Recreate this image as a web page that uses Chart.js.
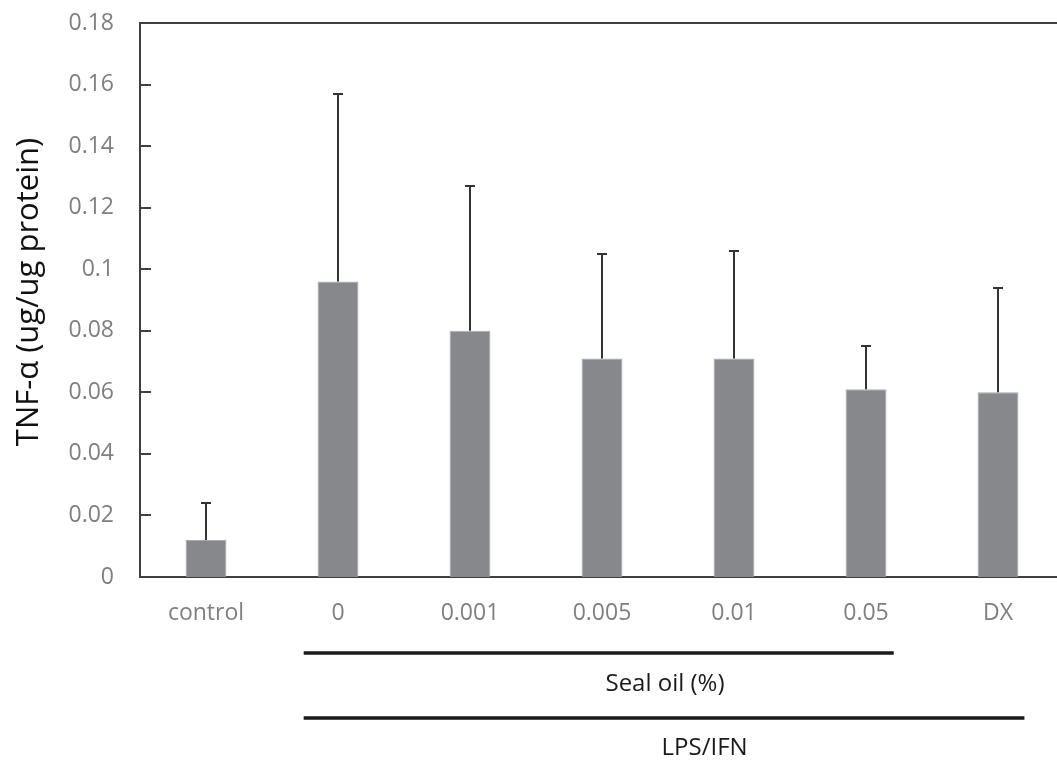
<!DOCTYPE html>
<html>
<head>
<meta charset="utf-8">
<script src="https://cdn.jsdelivr.net/npm/chart.js@4/dist/chart.umd.min.js"></script>
<style>
  html, body { margin: 0; padding: 0; background: #fff; overflow: hidden; }
  #wrap { position: relative; width: 1064px; height: 763px; }
</style>
</head>
<body>
<div id="wrap"><canvas id="c" width="1064" height="763"></canvas></div>
<script>
// Groups along the x axis
const categories = ['control', '0', '0.001', '0.005', '0.01', '0.05', 'DX'];
// Mean TNF-α per group
const meanValues = [0.012, 0.096, 0.080, 0.071, 0.071, 0.061, 0.060];
// Upper end of each error bar (mean + SD)
const errorTops = [0.024, 0.157, 0.127, 0.105, 0.106, 0.075, 0.094];
// Y axis ticks
const yTicks = [0, 0.02, 0.04, 0.06, 0.08, 0.1, 0.12, 0.14, 0.16, 0.18];
const yTitle = 'TNF-α (ug/ug protein)';

const AXIS_COLOR = '#404040';
const LABEL_FONT = "'Open Sans', 'Lato', sans-serif";

// Upper error bars with caps
const errorBarPlugin = {
  id: 'errorBars',
  afterDatasetsDraw(chart) {
    const { ctx, scales: { x, y } } = chart;
    ctx.save();
    ctx.strokeStyle = '#333';
    ctx.lineWidth = 2;
    errorTops.forEach((top, i) => {
      const px = Math.round(x.getPixelForValue(i));
      const y0 = y.getPixelForValue(meanValues[i]);
      const y1 = Math.round(y.getPixelForValue(top));
      ctx.beginPath();
      ctx.moveTo(px, y0);
      ctx.lineTo(px, y1);
      ctx.moveTo(px - 5, y1);
      ctx.lineTo(px + 5, y1);
      ctx.stroke();
    });
    ctx.restore();
  }
};

// Frame top line, inward y ticks, y title, and the group brackets under the x axis
const framePlugin = {
  id: 'frame',
  afterDraw(chart) {
    const { ctx, chartArea: a, scales: { x, y } } = chart;
    ctx.save();
    ctx.strokeStyle = AXIS_COLOR;
    ctx.lineWidth = 2;
    ctx.beginPath();
    ctx.moveTo(a.left - 1, a.top);
    ctx.lineTo(a.right, a.top);
    ctx.stroke();

    ctx.beginPath();
    yTicks.forEach(v => {
      if (v === 0 || v === 0.18) return;
      const py = Math.round(y.getPixelForValue(v));
      ctx.moveTo(a.left, py);
      ctx.lineTo(a.left + 11, py);
    });
    ctx.stroke();

    // rotated y axis title
    ctx.save();
    ctx.translate(29, (a.top + a.bottom) / 2 - 8);
    ctx.rotate(-Math.PI / 2);
    ctx.fillStyle = '#111';
    ctx.font = "31px " + LABEL_FONT;
    ctx.textAlign = 'center';
    ctx.textBaseline = 'middle';
    ctx.fillText(yTitle, 0, 0);
    ctx.restore();

    const step = x.getPixelForValue(1) - x.getPixelForValue(0);
    const start = x.getPixelForValue(1) - step * 0.26;
    const endSeal = x.getPixelForValue(5) + step * 0.21;
    const endLps = x.getPixelForValue(6) + step * 0.2;

    ctx.strokeStyle = '#1a1a1a';
    ctx.lineWidth = 3.5;
    ctx.beginPath();
    ctx.moveTo(start, 653);
    ctx.lineTo(endSeal, 653);
    ctx.moveTo(start, 718);
    ctx.lineTo(endLps, 718);
    ctx.stroke();

    ctx.fillStyle = '#1a1a1a';
    ctx.font = "24px " + LABEL_FONT;
    ctx.textAlign = 'center';
    ctx.textBaseline = 'middle';
    ctx.fillText('Seal oil (%)', x.getPixelForValue(3.5) - 3, 684);
    ctx.fillText('LPS/IFN', x.getPixelForValue(3.8) - 3, 748);
    ctx.restore();
  }
};

new Chart(document.getElementById('c'), {
  type: 'bar',
  data: {
    labels: categories,
    datasets: [{
      data: meanValues,
      backgroundColor: '#87888c',
      borderColor: '#a9aaad',
      borderWidth: 1,
      barPercentage: 0.31,
      categoryPercentage: 1.0
    }]
  },
  options: {
    responsive: false,
    animation: false,
    layout: { padding: { top: 23, right: 0, bottom: 0, left: 0 } },
    plugins: { legend: { display: false }, tooltip: { enabled: false } },
    scales: {
      x: {
        afterFit(s) { s.height = 186; s.paddingLeft = 0; s.paddingRight = 0; },
        grid: { display: false, drawTicks: false },
        border: { color: AXIS_COLOR, width: 2 },
        ticks: { color: '#7f7f7f', font: { family: LABEL_FONT, size: 23 }, padding: 23 }
      },
      y: {
        min: 0,
        max: 0.18,
        afterFit(s) { s.width = 140; s.paddingTop = 0; s.paddingBottom = 0; },
        afterBuildTicks(axis) { axis.ticks = yTicks.map(v => ({ value: v })); },
        grid: { display: false, drawTicks: false },
        border: { color: AXIS_COLOR, width: 2 },
        ticks: {
          color: '#7f7f7f',
          font: { family: LABEL_FONT, size: 23 },
          padding: 26,
          callback: v => String(Math.round(v * 100) / 100)
        }
      }
    }
  },
  plugins: [errorBarPlugin, framePlugin]
});
</script>
</body>
</html>
